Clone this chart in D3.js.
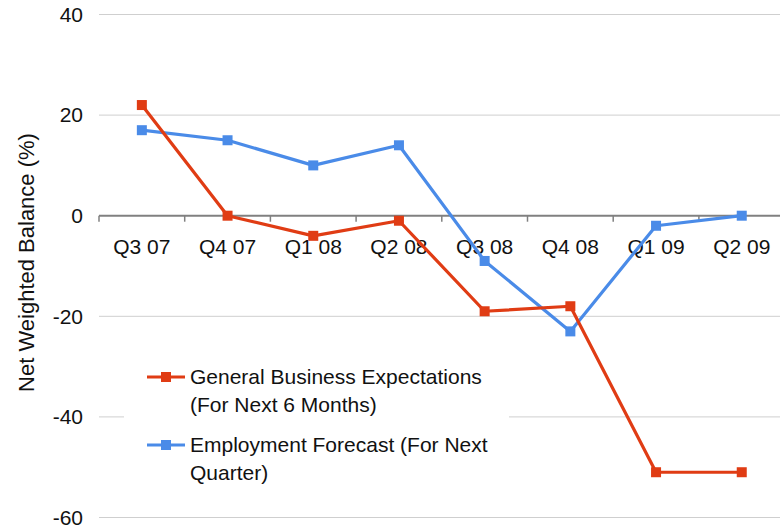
<!DOCTYPE html>
<meta charset="utf-8">
<script src="https://d3js.org/d3.v7.min.js"></script>
<style>
  body { margin: 0; background: #fff; }
  text { font-family: "Liberation Sans", Arial, sans-serif; fill: #111; }
</style>
<div id="my_dataviz"></div>
<script>

// quarters along the bottom
var quarters = ["Q3 07", "Q4 07", "Q1 08", "Q2 08", "Q3 08", "Q4 08", "Q1 09", "Q2 09"];

// net weighted balance (%) per quarter
var businessExpectations = [22, 0, -4, -1, -19, -18, -51, -51];
var employmentForecast = [17, 15, 10, 14, -9, -23, -2, 0];

var yTicks = [-60, -40, -20, 0, 20, 40];

var seriesNames = [
  ["General Business Expectations", "(For Next 6 Months)"],
  ["Employment Forecast (For Next", "Quarter)"]
];
var seriesColors = ["#e03c14", "#4a8be8"];

var width = 780, height = 530;

var svg = d3.select("#my_dataviz")
  .append("svg")
    .attr("width", width)
    .attr("height", height);

var x = d3.scaleBand()
  .domain(quarters)
  .range([99, 784.6]);

var y = d3.scaleLinear()
  .domain([-60, 40])
  .range([517.5, 14.5]);

// gridlines
svg.append("g")
  .selectAll("line")
  .data(yTicks.filter(function(d){ return d !== 0; }))
  .enter()
  .append("line")
    .attr("x1", 99)
    .attr("x2", width)
    .attr("y1", function(d){ return y(d); })
    .attr("y2", function(d){ return y(d); })
    .attr("stroke", "#cfcfcf")
    .attr("stroke-width", 1);

// y labels
svg.append("g")
  .selectAll("text")
  .data(yTicks)
  .enter()
  .append("text")
    .attr("x", 83)
    .attr("y", function(d){ return y(d); })
    .attr("dy", "0.35em")
    .attr("text-anchor", "end")
    .style("font-size", "21px")
    .text(function(d){ return d; });

// zero axis with quarter labels
var xAxis = svg.append("g")
  .attr("transform", "translate(0," + y(0) + ")")
  .call(d3.axisBottom(x).tickSize(0).tickPadding(23));
xAxis.select(".domain").remove();
xAxis.selectAll("text")
  .style("font-size", "21px")
  .style("font-family", "'Liberation Sans', Arial, sans-serif")
  .attr("fill", "#111");

svg.append("line")
  .attr("x1", 99).attr("x2", width)
  .attr("y1", y(0)).attr("y2", y(0))
  .attr("stroke", "#808080")
  .attr("stroke-width", 2);

svg.append("g")
  .selectAll("line")
  .data(quarters)
  .enter()
  .append("line")
    .attr("x1", function(d){ return x(d); })
    .attr("x2", function(d){ return x(d); })
    .attr("y1", y(0))
    .attr("y2", y(0) + 6)
    .attr("stroke", "#808080")
    .attr("stroke-width", 1.5);

// y axis title
svg.append("text")
  .attr("transform", "translate(34," + (132 + 393) / 2 + ") rotate(-90)")
  .attr("text-anchor", "middle")
  .style("font-size", "22px")
  .text("Net Weighted Balance (%)");

// lines + markers
var allSeries = [businessExpectations, employmentForecast];
var line = d3.line()
  .x(function(d, i){ return x(quarters[i]) + x.bandwidth() / 2; })
  .y(function(d){ return y(d); });

// draw blue first, red on top at the start like the original
[1, 0].forEach(function(s) {
  var vals = allSeries[s];
  svg.append("path")
    .datum(vals)
    .attr("fill", "none")
    .attr("stroke", seriesColors[s])
    .attr("stroke-width", 3.2)
    .attr("stroke-linejoin", "round")
    .attr("d", line);
  svg.append("g")
    .selectAll("rect")
    .data(vals)
    .enter()
    .append("rect")
      .attr("x", function(d, i){ return x(quarters[i]) + x.bandwidth() / 2 - 5; })
      .attr("y", function(d){ return y(d) - 5; })
      .attr("width", 10)
      .attr("height", 10)
      .attr("fill", seriesColors[s]);
});

// legend
var legend = svg.append("g");
legend.append("rect")
  .attr("x", 124).attr("y", 355)
  .attr("width", 385).attr("height", 135)
  .attr("fill", "#fff");

var legendTop = [377, 445];
seriesNames.forEach(function(name, s) {
  var g = legend.append("g");
  g.append("line")
    .attr("x1", 147).attr("x2", 185)
    .attr("y1", legendTop[s]).attr("y2", legendTop[s])
    .attr("stroke", seriesColors[s])
    .attr("stroke-width", 3.2);
  g.append("rect")
    .attr("x", 161).attr("y", legendTop[s] - 5)
    .attr("width", 10).attr("height", 10)
    .attr("fill", seriesColors[s]);
  name.forEach(function(t, k) {
    g.append("text")
      .attr("x", 190)
      .attr("y", legendTop[s] + k * 28)
      .attr("dy", "0.35em")
      .style("font-size", "21px")
      .text(t);
  });
});

</script>
